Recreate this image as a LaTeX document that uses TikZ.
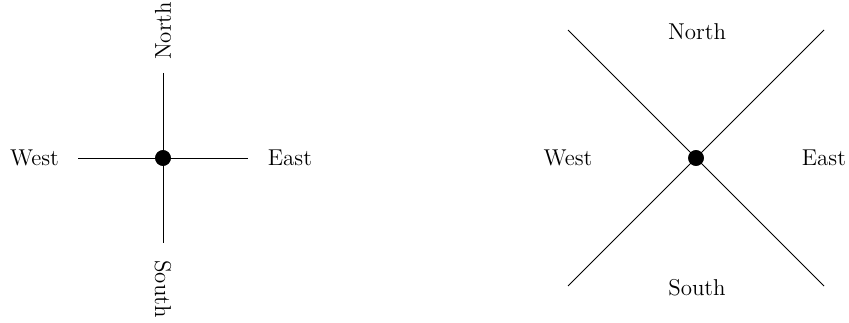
\documentclass[tikz,border=0pt]{standalone}
\begin{document}
\begin{tikzpicture}[x=0.48pt,y=-0.48pt,
  lbl/.style={inner sep=0pt,font=\fontsize{11}{13}\selectfont},
  hub/.style={circle,fill=black,inner sep=0pt,minimum size=7.5pt},
  arm/.style={draw=black,line width=0.4pt}]
\useasboundingbox (0,0) rectangle (849,322);
% left
\node[hub] (c1) at (163,158) {};
\coordinate (lw) at (78,158);
\coordinate (le) at (248,158);
\coordinate (ln) at (163,73);
\coordinate (ls) at (163,243);
\draw[arm] (lw) -- (le);
\draw[arm] (ln) -- (ls);
\node[hub] at (c1) {};
\node[lbl] (w1) at (34.5,158) {West};
\node[lbl] (e1) at (290,158) {East};
\node[lbl,rotate=90] (n1) at (163,31) {North};
\node[lbl,rotate=-90] (s1) at (163,289) {South};
% right
\node[hub] (c2) at (696,158) {};
\coordinate (rnw) at (568,30);
\coordinate (rse) at (824,286);
\coordinate (rne) at (824,30);
\coordinate (rsw) at (568,286);
\draw[arm] (rnw) -- (rse);
\draw[arm] (rne) -- (rsw);
\node[hub] at (c2) {};
\node[lbl] (n2) at (697,32) {North};
\node[lbl] (s2) at (697,288) {South};
\node[lbl] (w2) at (568,158) {West};
\node[lbl] (e2) at (824,158) {East};
\end{tikzpicture}
\end{document}
